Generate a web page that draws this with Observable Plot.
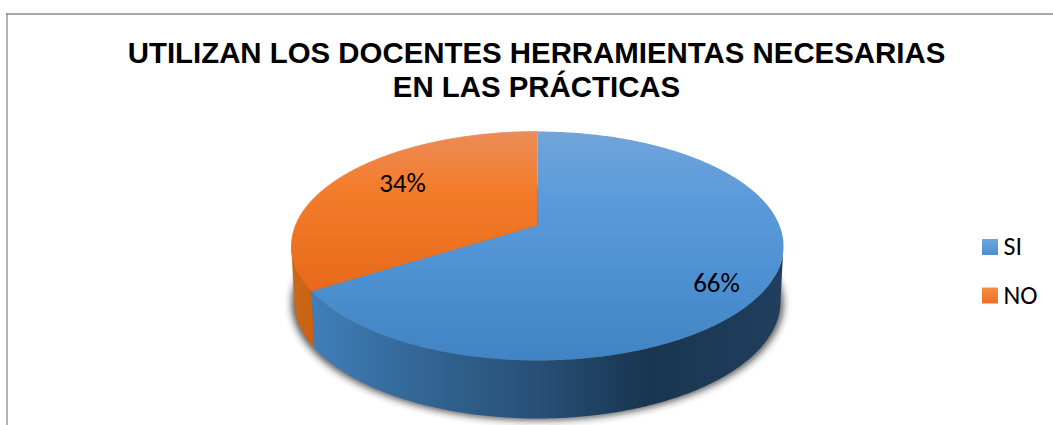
<!DOCTYPE html>
<html>
<head>
<meta charset="utf-8">
<script src="https://cdn.jsdelivr.net/npm/d3@7"></script>
<script src="https://cdn.jsdelivr.net/npm/@observablehq/plot@0.6"></script>
<style>
html,body{margin:0;padding:0;background:#fff}
svg{display:block}
</style>
</head>
<body>
<div id="chart"></div>
<script>
const categories = ["SI", "NO"];
const shares = [66, 34];
const titleLines = ["UTILIZAN LOS DOCENTES HERRAMIENTAS NECESARIAS", "EN LAS PRÁCTICAS"];

// Perspective view of the pie: a circle seen from above, rim lower by the thickness.
const persp = 0.179;
const topDisc = {cx: 537, cy: 225, a: 242, b: 110.8};
const baseDisc = {cx: 537, cy: 280, a: 239, b: 113.3};
const project = (d, deg) => {
  const t = deg * Math.PI / 180, X = Math.sin(t), Y = Math.cos(t), w = 1 + persp * Y;
  return {x: d.cx + d.a * X / w, y: d.cy - d.b * Y / w};
};
const arc = (d, a0, a1) => {
  const n = Math.max(2, Math.ceil(Math.abs(a1 - a0) * 2));
  return d3.range(n + 1).map(i => project(d, a0 + (a1 - a0) * i / n));
};
const total = d3.sum(shares);
const split = 360 * shares[0] / total;
const edge = Math.acos(-persp) * 180 / Math.PI; // silhouette angle of the disc

const slicePoly = (a0, a1) => [{x: topDisc.cx, y: topDisc.cy}, ...arc(topDisc, a0, a1)];
const sidePoly = (a0, a1) => [...arc(topDisc, a0, a1), ...arc(baseDisc, a1, a0)];
const poly = (pts, fill, extra = {}) => Plot.line(pts, {x: "x", y: "y", fill, stroke: "none", ...extra});

const defs = () => {
  const ns = "http://www.w3.org/2000/svg";
  const d = document.createElementNS(ns, "defs");
  d.innerHTML = `
  <linearGradient id="blueTop" x1="0" y1="0" x2="0" y2="1">
    <stop offset="0" stop-color="#71a4da"/><stop offset="0.3" stop-color="#5a9ada"/>
    <stop offset="0.6" stop-color="#4f92d3"/><stop offset="1" stop-color="#4084c4"/>
  </linearGradient>
  <linearGradient id="orangeTop" x1="0" y1="0" x2="0" y2="1">
    <stop offset="0" stop-color="#ec8b58"/><stop offset="0.35" stop-color="#f37d2c"/>
    <stop offset="1" stop-color="#e8691a"/>
  </linearGradient>
  <linearGradient id="blueSide" x1="0" y1="0" x2="1" y2="0">
    <stop offset="0" stop-color="#417fba"/><stop offset="0.22" stop-color="#336796"/>
    <stop offset="0.5" stop-color="#264d74"/><stop offset="0.71" stop-color="#193550"/>
    <stop offset="1" stop-color="#203f5e"/>
  </linearGradient>
  <linearGradient id="orangeSide" x1="0" y1="0" x2="1" y2="0">
    <stop offset="0" stop-color="#c86a1c"/><stop offset="1" stop-color="#cc6010"/>
  </linearGradient>
  <linearGradient id="blueKey" x1="0" y1="0" x2="0" y2="1">
    <stop offset="0" stop-color="#6da6de"/><stop offset="1" stop-color="#4a8fd0"/>
  </linearGradient>
  <linearGradient id="orangeKey" x1="0" y1="0" x2="0" y2="1">
    <stop offset="0" stop-color="#f58c4a"/><stop offset="1" stop-color="#ec6f1f"/>
  </linearGradient>
  <filter id="soft" x="-10%" y="-10%" width="120%" height="120%"><feGaussianBlur stdDeviation="3.5"/></filter>`;
  return d;
};
const blur = (index, scales, values, dims, ctx, next) => {
  const g = next(index, scales, values, dims, ctx);
  g.setAttribute("filter", "url(#soft)");
  return g;
};

const sans = "Liberation Sans, Arial, sans-serif";
const humanist = "Carlito, Lato, Calibri, sans-serif";
const sliceLabels = [{x: 716, y: 283}, {x: 402, y: 183}].map((p, i) => ({...p, label: shares[i] + "%"}));
const legend = categories.map((c, i) => ({label: c, y: [246.5, 295][i], fill: ["url(#blueKey)", "url(#orangeKey)"][i]}));

const chart = Plot.plot({
  width: 1053, height: 425,
  margin: 0,
  x: {domain: [0, 1053], range: [0, 1053], axis: null},
  y: {domain: [0, 425], range: [0, 425], axis: null},
  marks: [
    defs,
    Plot.ruleX([6.5], {y1: 13.5, y2: 425, stroke: "#8a8a8a", strokeWidth: 1.3}),
    Plot.ruleY([13.5], {x1: 6, x2: 1053, stroke: "#8a8a8a", strokeWidth: 1.3}),
    Plot.text(titleLines, {
      x: () => 536, y: (d, i) => [53, 87][i], text: d => d,
      fontFamily: sans, fontWeight: "bold", fontSize: 29.4, fill: "#000", textAnchor: "middle"
    }),
    // soft shadow under the base
    poly(arc({...baseDisc, cy: baseDisc.cy + 2, a: baseDisc.a + 3}, 0, 360), "rgba(40,40,40,0.75)", {render: blur}),
    poly(sidePoly(split, 360 - edge), "url(#orangeSide)", {stroke: "#ca6416", strokeWidth: 0.6}),
    poly(sidePoly(edge, split), "url(#blueSide)"),
    poly(slicePoly(split, 360), "url(#orangeTop)", {stroke: "url(#orangeTop)", strokeWidth: 0.8}),
    poly(slicePoly(0, split), "url(#blueTop)"),
    Plot.text(sliceLabels, {x: "x", y: "y", text: "label", fontFamily: humanist, fontSize: 27, fill: "#000"}),
    Plot.dot(legend, {x: () => 989.5, y: "y", symbol: "square", r: 9, fill: "fill", stroke: "none"}),
    Plot.text(legend, {x: () => 1003, y: "y", text: "label", textAnchor: "start", fontFamily: humanist, fontSize: 26, fill: "#000"})
  ]
});
document.getElementById("chart").append(chart);
</script>
</body>
</html>
